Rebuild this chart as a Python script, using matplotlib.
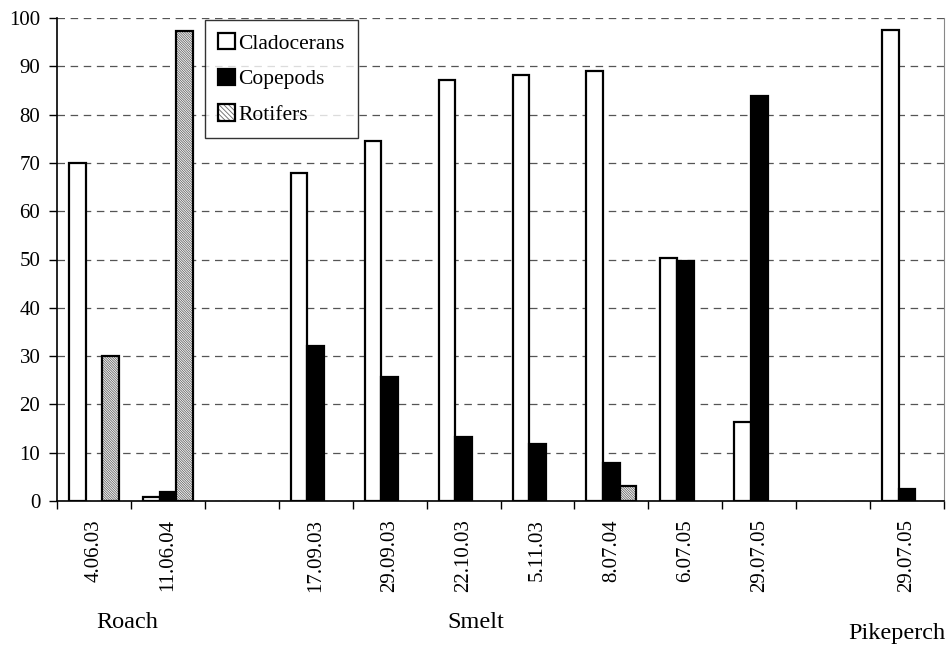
import matplotlib
matplotlib.use("Agg")
import matplotlib.pyplot as plt
import numpy as np
from matplotlib.patches import Patch
from matplotlib.legend_handler import HandlerBase
from matplotlib.patches import Rectangle

plt.rcParams['font.family'] = ['Liberation Serif', 'DejaVu Serif']
plt.rcParams['hatch.linewidth'] = 0.6

dates = ["4.06.03", "11.06.04", "", "17.09.03", "29.09.03", "22.10.03",
         "5.11.03", "8.07.04", "6.07.05", "29.07.05", "", "29.07.05"]
cladocerans = [70.0, 0.8, 0, 68.0, 74.5, 87.1, 88.3, 89.0, 50.4, 16.3, 0, 97.6]
copepods = [0, 1.8, 0, 32.0, 25.6, 13.2, 11.8, 7.9, 49.7, 83.8, 0, 2.5]
rotifers = [30.0, 97.4, 0, 0, 0, 0, 0, 3.1, 0, 0, 0, 0]
groups = ["Roach", "Smelt", "Pikeperch"]
yticks = list(range(0, 101, 10))

W, H = 946, 645
fig = plt.figure(figsize=(W / 100, H / 100), dpi=100)
ax = fig.add_axes([57 / W, 1 - 501 / H, (944 - 57) / W, (501 - 18) / H])

x = np.arange(len(dates))
bw = 0.225
lw = 1.6
present = [i for i in range(len(dates)) if dates[i]]
HATCH = '\\' * 14
HATCH_COLOR = '#666666'

def draw(vals, off, fc, hatch=None):
    idx = [i for i in present if vals[i] > 0]
    xs = x[idx] + off
    hs = [vals[i] for i in idx]
    if hatch:
        ax.bar(xs, hs, width=bw, facecolor=fc, edgecolor=HATCH_COLOR,
               linewidth=0, hatch=hatch, zorder=3)
        ax.bar(xs, hs, width=bw, facecolor='none', edgecolor='black',
               linewidth=lw, zorder=4)
    else:
        ax.bar(xs, hs, width=bw, facecolor=fc, edgecolor='black',
               linewidth=lw, zorder=3)

draw(cladocerans, -bw, 'white')
draw(copepods, 0, 'black')
draw(rotifers, bw, 'white', hatch=HATCH)

ax.set_xlim(-0.5, len(dates) - 0.5)
ax.set_ylim(0, 100)
ax.set_yticks(yticks)
ax.set_yticklabels([str(v) for v in yticks], fontsize=15)
ax.yaxis.grid(True, linestyle=(0, (6, 4.5)), color='#555555', linewidth=0.9, zorder=0)
ax.set_axisbelow(True)

ax.set_xticks(x)
ax.set_xticklabels(dates, rotation=90, fontsize=15, va='top')
ax.set_xticks(np.arange(-0.5, len(dates) + 0.5, 1), minor=True)
ax.tick_params(axis='x', which='major', length=0, pad=13)
ax.tick_params(axis='x', which='minor', length=5.5, width=1, direction='out')
ax.tick_params(axis='y', length=6, width=1, direction='out', pad=6)

ax.spines['top'].set_visible(False)
ax.spines['right'].set_color('#888888')
ax.spines['right'].set_linewidth(0.8)
ax.spines['left'].set_linewidth(1.2)
ax.spines['bottom'].set_linewidth(1.2)

# group labels
fig.text(127.5 / W, 1 - 623 / H, groups[0], ha='center', va='center', fontsize=17.5)
fig.text(475.5 / W, 1 - 623 / H, groups[1], ha='center', va='center', fontsize=17.5)
fig.text(945 / W, 1 - 633 / H, groups[2], ha='right', va='center', fontsize=17.5)


class HatchHandler(HandlerBase):
    def create_artists(self, legend, orig_handle, xdescent, ydescent, width,
                       height, fontsize, trans):
        r1 = Rectangle((-xdescent, -ydescent), width, height, facecolor='white',
                       edgecolor=HATCH_COLOR, linewidth=0, hatch='\\' * 7,
                       transform=trans)
        r2 = Rectangle((-xdescent, -ydescent), width, height, facecolor='none',
                       edgecolor='black', linewidth=1.6, transform=trans)
        return [r1, r2]


h_rot = Patch(facecolor='white', edgecolor='black', label='Rotifers')
handles = [Patch(facecolor='white', edgecolor='black', linewidth=1.6, label='Cladocerans'),
           Patch(facecolor='black', edgecolor='black', linewidth=1.6, label='Copepods'),
           h_rot]
leg = fig.legend(handles=handles, loc='upper left',
                 bbox_to_anchor=(205 / W, 1 - 20 / H), fontsize=15.5,
                 frameon=True, fancybox=False, edgecolor='black',
                 handlelength=0.8, handleheight=0.8, handletextpad=0.15,
                 labelspacing=0.7, borderpad=0.6, borderaxespad=0,
                 handler_map={h_rot: HatchHandler()})
leg.get_frame().set_linewidth(1.0)

fig.savefig("out.png", dpi=100)
